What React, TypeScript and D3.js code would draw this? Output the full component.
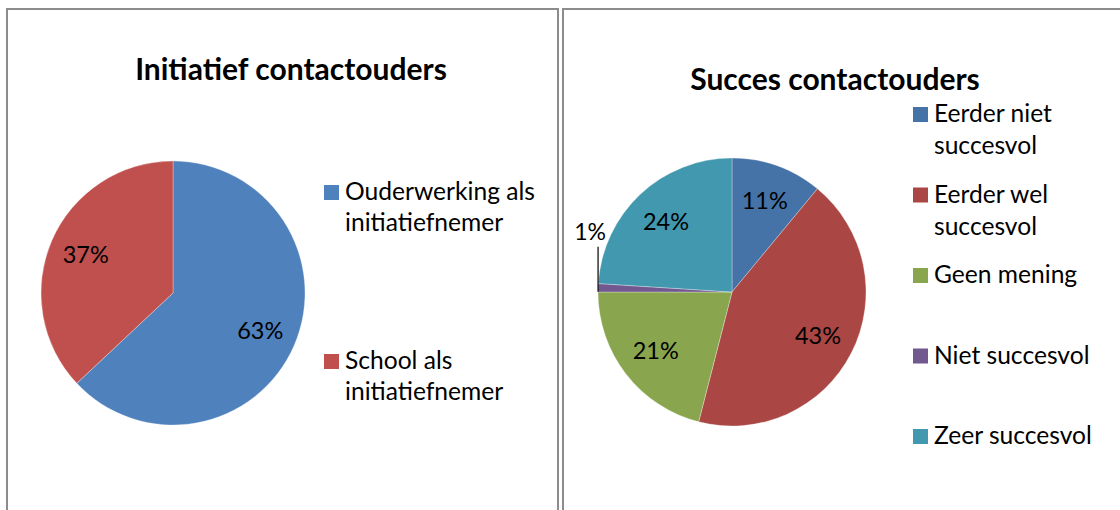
import React from "react";
import * as d3 from "d3";

const width = 1120;
const height = 510;
const font = "Lato, 'Open Sans', sans-serif";

// left chart
const initCategories = ["Ouderwerking als initiatiefnemer", "School als initiatiefnemer"];
const initValues = [63, 37];
const initLegendLines = [["Ouderwerking als", "initiatiefnemer"], ["School als", "initiatiefnemer"]];
const initColors = ["#4F81BD", "#C0504D"];

// right chart
const succesCategories = ["Eerder niet succesvol", "Eerder wel succesvol", "Geen mening", "Niet succesvol", "Zeer succesvol"];
const succesValues = [11, 43, 21, 1, 24];
const succesLegendLines = [["Eerder niet", "succesvol"], ["Eerder wel", "succesvol"], ["Geen mening"], ["Niet succesvol"], ["Zeer succesvol"]];
const succesColors = ["#4572A7", "#AA4643", "#89A54E", "#71588F", "#4198AF"];

type PieProps = {
  title: string;
  titleX: number;
  titleY: number;
  cx: number;
  cy: number;
  r: number;
  categories: string[];
  values: number[];
  colors: string[];
  legendLines: string[][];
  legendX: number;
  legendY: [number, number];
  lineHeight: number;
};

function PieChart(p: PieProps) {
  const pie = d3.pie<number>().sort(null).value(d => d);
  const arcs = pie(p.values);
  const total = d3.sum(p.values);
  const arcGen = d3.arc<d3.PieArcDatum<number>>().innerRadius(0).outerRadius(p.r);
  const labelArc = d3.arc<d3.PieArcDatum<number>>().innerRadius(p.r * 0.72).outerRadius(p.r * 0.72);
  const color = d3.scaleOrdinal<string, string>().domain(p.categories).range(p.colors);
  const legendScale = d3.scaleLinear().domain([0, p.categories.length - 1]).range(p.legendY);

  return (
    <g>
      <text x={p.titleX} y={p.titleY} textAnchor="middle" fontFamily={font} fontWeight="bold" fontSize={30}>
        {p.title}
      </text>
      <g transform={`translate(${p.cx},${p.cy})`}>
        {arcs.map((a, i) => (
          <path key={i} d={arcGen(a) || ""} fill={color(p.categories[i])} stroke="#ffffff" strokeOpacity={0.5} strokeWidth={0.6} />
        ))}
        {arcs.map((a, i) => {
          const pct = Math.round((a.value / total) * 100) + "%";
          if (a.value / total < 0.03) {
            // small slice: label outside with leader line
            const mid = (a.startAngle + a.endAngle) / 2;
            const ex = p.r * Math.sin(mid);
            const ey = -p.r * Math.cos(mid) + 4;
            return (
              <g key={"l" + i}>
                <line x1={ex} y1={ey} x2={ex} y2={ey - 45} stroke="#000" strokeWidth={1.2} />
                <text x={ex - 8} y={ey - 52} textAnchor="middle" fontFamily={font} fontSize={23}>
                  {pct}
                </text>
              </g>
            );
          }
          const [lx, ly] = labelArc.centroid(a);
          return (
            <text key={"l" + i} x={lx} y={ly} dy="0.35em" textAnchor="middle" fontFamily={font} fontSize={23.5}>
              {pct}
            </text>
          );
        })}
      </g>
      <g>
        {p.legendLines.map((lines, i) => {
          const y = legendScale(i);
          return (
            <g key={"lg" + i}>
              <rect x={p.legendX} y={y - 15} width={15} height={15} fill={color(p.categories[i])} />
              {lines.map((ln, j) => (
                <text key={j} x={p.legendX + 21} y={y + j * p.lineHeight} fontFamily={font} fontSize={24.6}>
                  {ln}
                </text>
              ))}
            </g>
          );
        })}
      </g>
    </g>
  );
}

export default function App() {
  return (
    <svg width={width} height={height} style={{ position: "absolute", left: 0, top: 0 }}>
      <rect x={0} y={0} width={width} height={height} fill="#fff" />
      {/* panel frames */}
      <path d="M7,520 V9 H558 V520" fill="none" stroke="#8c8c8c" strokeWidth={2} />
      <path d="M563,520 V9 H1130" fill="none" stroke="#8c8c8c" strokeWidth={2} />
      <PieChart
        title="Initiatief contactouders"
        titleX={291}
        titleY={80}
        cx={173}
        cy={293}
        r={132}
        categories={initCategories}
        values={initValues}
        colors={initColors}
        legendLines={initLegendLines}
        legendX={324}
        legendY={[200, 369]}
        lineHeight={31}
      />
      <PieChart
        title="Succes contactouders"
        titleX={835}
        titleY={90}
        cx={732}
        cy={292}
        r={134}
        categories={succesCategories}
        values={succesValues}
        colors={succesColors}
        legendLines={succesLegendLines}
        legendX={913}
        legendY={[122, 444]}
        lineHeight={32}
      />
    </svg>
  );
}
